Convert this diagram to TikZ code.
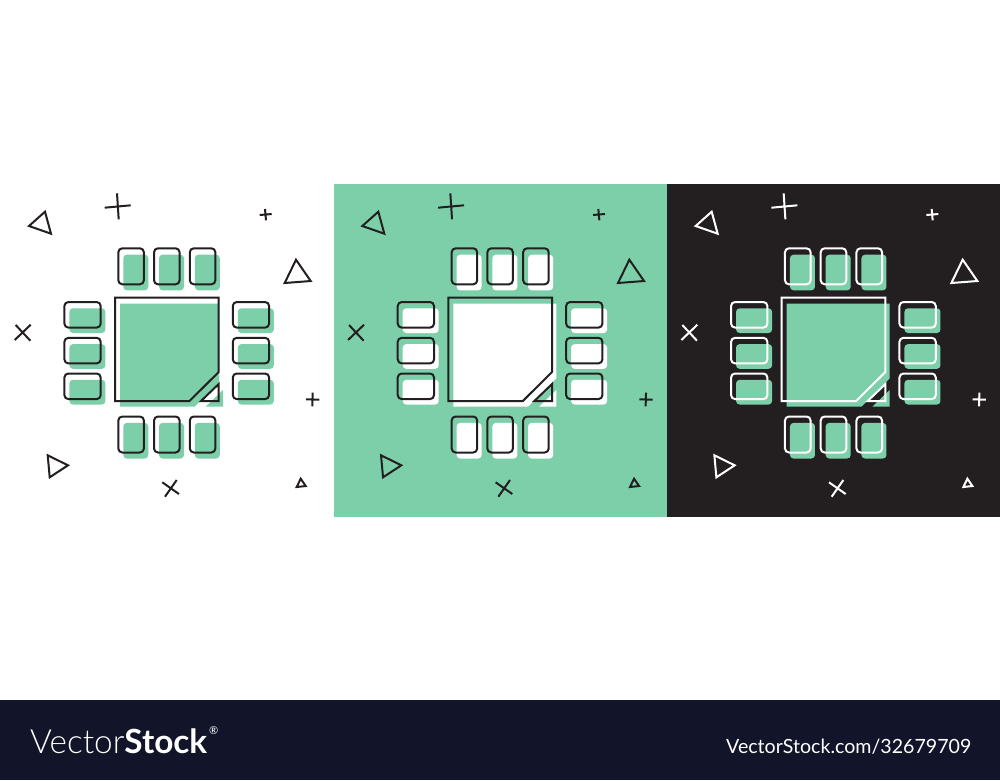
\documentclass[tikz,border=0pt]{standalone}
\usepackage{fontspec}
\setmainfont{Lato}
\newfontfamily\logolight{Lato Light}
\definecolor{mint}{HTML}{7DCFA9}
\definecolor{ink}{HTML}{231F20}
\definecolor{footer}{HTML}{12142A}
\tikzset{
  inkline/.style={line width=2pt,line join=miter,line cap=butt},
  pinline/.style={inkline,rounded corners=4pt},
  pinshadow/.style={rounded corners=3.5pt},
}
\newcommand{\chippanel}[4]{% x-offset, background, line, shadow
  \begin{scope}[xshift=#1pt]
    % top and bottom pins
    \foreach \px in {118.3,154,189.8}{
      \foreach \py in {248.3,416.5}{
        \fill[#4,pinshadow] (\px+5,\py+6.4) rectangle (\px+30,\py+42);
        \draw[pinline,draw=#3] (\px,\py) rectangle (\px+25.6,\py+36);
      }
    }
    % left and right pins
    \foreach \px in {64.4,232.8}{
      \foreach \py in {302,337.8,373.5}{
        \fill[#4,pinshadow] (\px+5,\py+6.3) rectangle (\px+41,\py+31);
        \draw[pinline,draw=#3] (\px,\py) rectangle (\px+36.3,\py+25.6);
      }
    }
    % chip shadow
    \fill[#4] (120,303.5) -- (\chipedge,303.5) -- (\chipedge,{601.4-\chipedge}) -- (194.7,406.7) -- (120,406.7) -- cycle;
    \fill[#4] (223,390) -- (223,406.7) -- (205.7,406.7) -- cycle;
    % chip outline
    \draw[inkline,draw=#3] (115,297.7) -- (218.7,297.7) -- (218.7,372) -- (189.5,401) -- (115,401) -- cycle;
    \draw[inkline,draw=#3] (218.7,384) -- (218.7,401) -- (201,401) -- cycle;
    % triangles
    \draw[inkline,draw=#3] (45,211.7) -- (29,226) -- (51,233.7) -- cycle;
    \draw[inkline,draw=#3] (296,259.7) -- (284.7,283) -- (310.7,281) -- cycle;
    \draw[inkline,draw=#3] (47.7,455.3) -- (49.7,477.3) -- (68,465.3) -- cycle;
    \draw[inkline,draw=#3] (300.7,478.7) -- (296.7,487) -- (305.7,486) -- cycle;
    % plus signs
    \draw[inkline,draw=#3] (104.7,207.7) -- (130.7,205.3) (117,193.3) -- (118.7,219.3);
    \draw[inkline,draw=#3] (259.7,215) -- (271.7,214) (265,209) -- (266,220.3);
    \draw[inkline,draw=#3] (306,399.3) -- (319.3,399.7) (312.7,392.7) -- (312.3,406.3);
    % crosses
    \draw[inkline,draw=#3] (14.7,340) -- (30.7,324.7) (15.7,325) -- (30.3,340.7);
    \draw[inkline,draw=#3] (162.3,482.3) -- (179,494) (176.7,480) -- (165,496.7);
  \end{scope}
}
\begin{document}
\begin{tikzpicture}[x=1pt,y=-1pt]
  \useasboundingbox (0,0) rectangle (1000,780);
  \fill[white] (0,0) rectangle (1000,780);
  \fill[mint] (333.5,184) rectangle (667,517);
  \fill[ink] (667,184) rectangle (1000,517);
  \fill[footer] (0,700) rectangle (1000,780);
  \def\chipedge{219}
  \chippanel{0}{white}{ink}{mint}
  \def\chipedge{223}
  \chippanel{333.33}{mint}{ink}{white}
  \chippanel{666.67}{ink}{white}{mint}
  \node[anchor=base west,inner sep=0pt,text=white,font=\fontsize{33.3}{35}\selectfont] (logo) at (30,753)
    {\logolight Vector\normalfont\bfseries Stock};
  \node[anchor=base west,inner sep=0pt,text=white,font=\fontsize{11}{11}\selectfont] (reg) at (209,734) {®};
  \node[anchor=base east,inner sep=0pt,text=white,font=\fontsize{19.6}{20}\selectfont] (url) at (971.5,753) {VectorStock.com/32679709};
\end{tikzpicture}
\end{document}
